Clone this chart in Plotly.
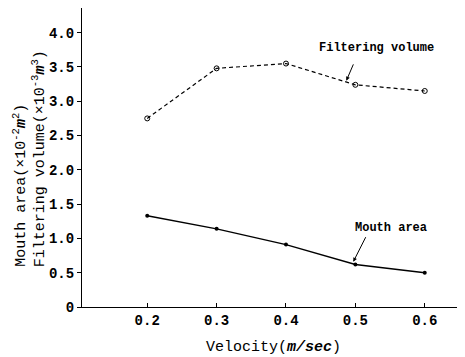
import plotly.graph_objects as go

velocity = [0.2, 0.3, 0.4, 0.5, 0.6]
filtering_volume = [2.75, 3.48, 3.55, 3.24, 3.15]
mouth_area = [1.33, 1.14, 0.91, 0.62, 0.50]
y_ticks = [0, 0.5, 1.0, 1.5, 2.0, 2.5, 3.0, 3.5, 4.0]
y_tick_labels = ["0", "0.5", "1.0", "1.5", "2.0", "2.5", "3.0", "3.5", "4.0"]
x_ticks = [0.2, 0.3, 0.4, 0.5, 0.6]
x_tick_labels = ["0.2", "0.3", "0.4", "0.5", "0.6"]

FONT = "Liberation Mono"

fig = go.Figure()
fig.add_trace(go.Scatter(
    x=velocity, y=filtering_volume, mode="lines+markers",
    line=dict(color="black", width=1.2, dash="4px,3px"),
    marker=dict(symbol="circle-open", size=5, color="black", line=dict(width=1)),
    showlegend=False))
fig.add_trace(go.Scatter(
    x=velocity, y=mouth_area, mode="lines+markers",
    line=dict(color="black", width=1.4),
    marker=dict(symbol="circle", size=4, color="black"),
    showlegend=False))

fig.add_annotation(x=0.487, y=3.30, ax=0.498, ay=3.56, xref="x", yref="y",
                   axref="x", ayref="y", showarrow=True, arrowhead=2,
                   arrowsize=0.8, arrowwidth=1, arrowcolor="black", text="")
fig.add_annotation(x=0.53, y=3.77, text="<b>Filtering volume</b>", showarrow=False,
                   font=dict(family=FONT, size=12, color="black"))
fig.add_annotation(x=0.497, y=0.66, ax=0.516, ay=1.04, xref="x", yref="y",
                   axref="x", ayref="y", showarrow=True, arrowhead=2,
                   arrowsize=0.8, arrowwidth=1, arrowcolor="black", text="")
fig.add_annotation(x=0.552, y=1.15, text="<b>Mouth area</b>", showarrow=False,
                   font=dict(family=FONT, size=12, color="black"))

fig.add_annotation(x=-0.164, y=0.127, xref="paper", yref="paper", textangle=-90,
                   showarrow=False, xanchor="center", yanchor="bottom",
                   text="Mouth area(×10<sup>-2</sup><b><i>m</i></b><sup>2</sup>)",
                   font=dict(family=FONT, size=15, color="black"))
fig.add_annotation(x=-0.113, y=0.127, xref="paper", yref="paper", textangle=-90,
                   showarrow=False, xanchor="center", yanchor="bottom",
                   text="Filtering volume(×10<sup>-3</sup><b><i>m</i></b><sup>3</sup>)",
                   font=dict(family=FONT, size=15, color="black"))

fig.update_layout(
    width=457, height=349,
    margin=dict(l=74, r=0, t=0, b=50),
    paper_bgcolor="white", plot_bgcolor="white",
    font=dict(family=FONT, size=12, color="black"),
    xaxis=dict(range=[0.106, 0.658], tickvals=x_ticks,
               ticktext=["<b>" + t + "</b>" for t in x_tick_labels],
               ticks="inside", ticklen=4, tickcolor="black", showgrid=False,
               zeroline=False, showline=True, linecolor="black", linewidth=1,
               tickfont=dict(family=FONT, size=14),
               title=dict(text="Velocity(<b><i>m/sec</i></b>)", standoff=12,
                          font=dict(family=FONT, size=15))),
    yaxis=dict(range=[0, 4.36], tickvals=y_ticks,
               ticktext=["<b>" + t + "</b>" for t in y_tick_labels],
               ticks="outside", ticklen=4, tickcolor="black", showgrid=False,
               zeroline=False, showline=True, linecolor="black", linewidth=1,
               tickfont=dict(family=FONT, size=14)),
)

fig.write_html("out.html")
